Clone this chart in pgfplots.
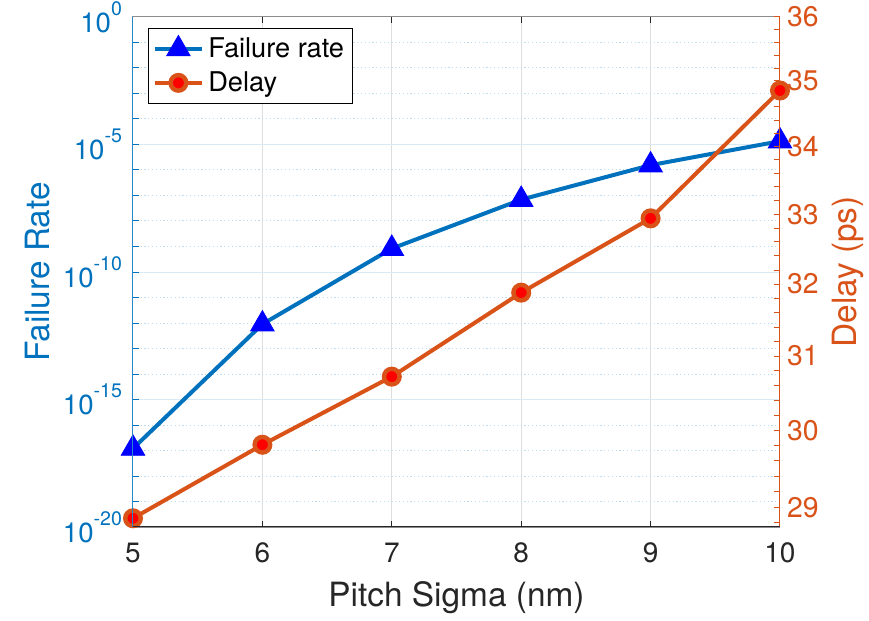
\documentclass[border=0pt]{standalone}
\usepackage{pgfplots}
\pgfplotsset{compat=1.18}
\usepackage{fontspec}
\setmainfont{TeX Gyre Heros}

\definecolor{mblue}{rgb}{0,0.447,0.741}
\definecolor{morange}{rgb}{0.85,0.325,0.098}
\definecolor{mtext}{RGB}{38,38,38}
\definecolor{xgridc}{RGB}{222,222,222}
\definecolor{ygridc}{RGB}{217,234,245}
\definecolor{yminorc}{RGB}{191,220,239}
\definecolor{topline}{RGB}{140,140,140}

% power-of-ten tick label set in the text font
\newcommand{\pw}[1]{10\raisebox{0.6em}{\fontsize{9.8}{10}\selectfont #1}}

\pgfplotstableread{
x   rate
5   1.2e-17
6   9.0e-13
7   8.3e-10
8   6.9e-8
9   1.55e-6
10  1.35e-5
}\ratetable

\pgfplotstableread{
x   delay
5   28.86
6   29.81
7   30.72
8   31.88
9   32.94
10  34.85
}\delaytable

\pgfplotsset{
  frame/.style={
    scale only axis, width=323.5pt, height=255pt,
    xmin=5, xmax=10,
    /pgf/number format/assume math mode=true,
    major tick length=3.2pt, minor tick length=3.2pt,
  },
  ratestyle/.style={color=mblue, line width=2pt,
    mark=triangle*, mark size=6.8pt,
    mark options={fill=blue, draw=blue, line width=0.4pt, solid}},
  delaystyle/.style={color=morange, line width=2pt,
    mark=*, mark size=3.9pt,
    mark options={fill=red, draw=morange, line width=2.2pt, solid}},
}

\begin{document}
\begin{tikzpicture}
\path[use as bounding box] (-66.5pt,-47pt) rectangle (368pt,263.5pt);

% left axis: failure rate (log scale)
\begin{axis}[
  frame, name=L,
  axis line style={topline, line width=0.5pt},
  xtick={5,6,7,8,9,10}, xtick pos=both,
  xtick style={mtext, line width=0.5pt},
  xticklabel style={font=\fontsize{14}{14}\selectfont, color=mtext, yshift=-4.5pt},
  ymode=log, ymin=1e-20, ymax=1,
  ytick={1e-20,1e-15,1e-10,1e-5,1},
  yticklabels={\pw{-20},\pw{-15},\pw{-10},\pw{-5},\pw{0}},
  minor ytick={1e-19,1e-18,1e-17,1e-16,1e-14,1e-13,1e-12,1e-11,1e-9,1e-8,1e-7,1e-6,1e-4,1e-3,1e-2,1e-1},
  ytick pos=left,
  ytick style={mblue, line width=0.5pt},
  yticklabel style={font=\fontsize{13.8}{14}\selectfont, color=mblue, xshift=-2pt},
  xmajorgrids, ymajorgrids, yminorgrids,
  major x grid style={xgridc, line width=0.5pt},
  major y grid style={ygridc, line width=0.5pt},
  minor y grid style={yminorc, line width=0.5pt, dash pattern=on 0.6pt off 1.3pt},
  xlabel={Pitch Sigma (nm)},
  xlabel style={font=\fontsize{16.7}{18}\selectfont, color=mtext,
    at={(axis description cs:0.5,-0.139)}, anchor=center},
  ylabel={Failure Rate},
  ylabel style={font=\fontsize{16.7}{18}\selectfont, color=mblue,
    at={(axis description cs:-0.1468,0.5)}, anchor=center},
]
\addplot[ratestyle] table[x=x, y=rate] {\ratetable};
\end{axis}

% right axis: delay
\begin{axis}[
  frame,
  axis x line=none,
  axis y line*=right,
  y axis line style={morange, line width=0.5pt, -},
  ymode=log, ymin=28.75, ymax=36,
  ytick={29,30,31,32,33,34,35,36},
  yticklabels={29,30,31,32,33,34,35,36},
  minor ytick={28.8,29.2,29.4,29.6,29.8,30.2,30.4,30.6,30.8,31.2,31.4,31.6,31.8,32.2,32.4,32.6,32.8,33.2,33.4,33.6,33.8,34.2,34.4,34.6,34.8,35.2,35.4,35.6,35.8},
  ytick style={morange, line width=0.5pt},
  yticklabel style={font=\fontsize{14.2}{14}\selectfont, color=morange},
  ylabel={Delay (ps)},
  ylabel style={font=\fontsize{16.7}{18}\selectfont, color=morange,
    at={(axis description cs:1.105,0.5)}, anchor=center},
  legend style={at={(axis description cs:0.0232,0.978)}, anchor=north west,
    draw=black, line width=0.5pt, fill=white,
    font=\fontsize{13.6}{16}\selectfont, text=black,
    inner xsep=2pt, inner ysep=2.5pt, row sep=1.5pt},
  legend cell align=left,
  legend image code/.code={\draw[mark repeat=2,mark phase=2]
    plot coordinates {(0cm,0cm) (0.42cm,0cm) (0.84cm,0cm)};},
]
\addlegendimage{ratestyle}
\addlegendentry{Failure rate}
\addplot[delaystyle] table[x=x, y=delay] {\delaytable};
\addlegendentry{Delay}
\end{axis}

% coloured left and bottom axis lines
\draw[mblue!85, line width=0.5pt] (L.south west) -- (L.north west);
\draw[mtext, line width=0.5pt] (L.south west) -- (L.south east);
\end{tikzpicture}
\end{document}
